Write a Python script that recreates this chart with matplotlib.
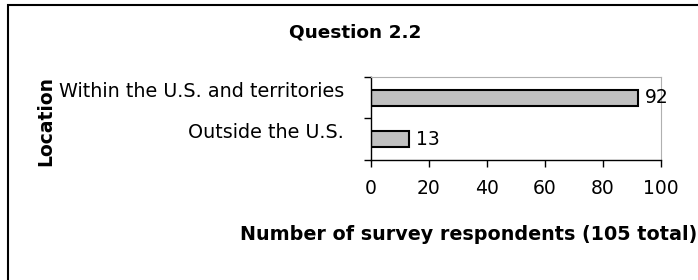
import matplotlib
matplotlib.use('Agg')
import matplotlib.pyplot as plt
import matplotlib.transforms as mtransforms
from matplotlib.patches import Rectangle

categorias = ['Outside the U.S.', 'Within the U.S. and territories']
respuestas = [13, 92]
ticks_x = [0, 20, 40, 60, 80, 100]

plt.rcParams['font.family'] = 'DejaVu Sans'

fig = plt.figure(figsize=(6.98, 2.8), dpi=100)
ax = fig.add_axes([0.5315, 0.4286, 0.4155, 0.2964])

pos = list(range(len(categorias)))
ax.barh(pos, respuestas, height=0.38, color='#c0c0c0', edgecolor='black', linewidth=1.5)
for p, v in zip(pos, respuestas):
    ax.text(v + 2.5, p, str(v), va='center', ha='left', fontsize=13.5)

ax.set_xlim(0, 100)
ax.set_ylim(-0.5, len(categorias) - 0.5)
ax.set_xticks(ticks_x)
ax.set_xticklabels([str(t) for t in ticks_x], fontsize=13.5)
ax.tick_params(axis='x', direction='out', length=5, width=1, pad=9)

ax.set_yticks(pos)
ax.set_yticklabels(categorias, fontsize=13.8)
ax.set_yticks([-0.5, 0.5, 1.5], minor=True)
ax.tick_params(axis='y', which='major', length=0, pad=19.5)
ax.tick_params(axis='y', which='minor', direction='out', length=5, width=1)
desplazar = mtransforms.ScaledTranslation(0, 6 / 72, fig.dpi_scale_trans)
for etiqueta in ax.get_yticklabels():
    etiqueta.set_transform(etiqueta.get_transform() + desplazar)

for lado in ['top', 'right']:
    ax.spines[lado].set_color('#b0b0b0')
for lado in ['left', 'bottom']:
    ax.spines[lado].set_color('black')
    ax.spines[lado].set_linewidth(1)

fig.text(355 / 698, 1 - 32 / 280, 'Question 2.2', ha='center', va='center',
         fontsize=13.3, fontweight='bold')
fig.text(469 / 698, 1 - 235 / 280, 'Number of survey respondents (105 total)',
         ha='center', va='center', fontsize=13.8, fontweight='bold')
fig.text(46 / 698, 1 - 121 / 280, 'Location', ha='center', va='center',
         rotation=90, fontsize=13.5, fontweight='bold')

# marco exterior del grafico
fig.patches.append(Rectangle((8 / 698, -0.1), 1.1, 1 - 5 / 280 + 0.1,
                             transform=fig.transFigure, fill=False,
                             edgecolor='black', linewidth=1.5))

fig.savefig('out.png', dpi=100)
plt.close()
